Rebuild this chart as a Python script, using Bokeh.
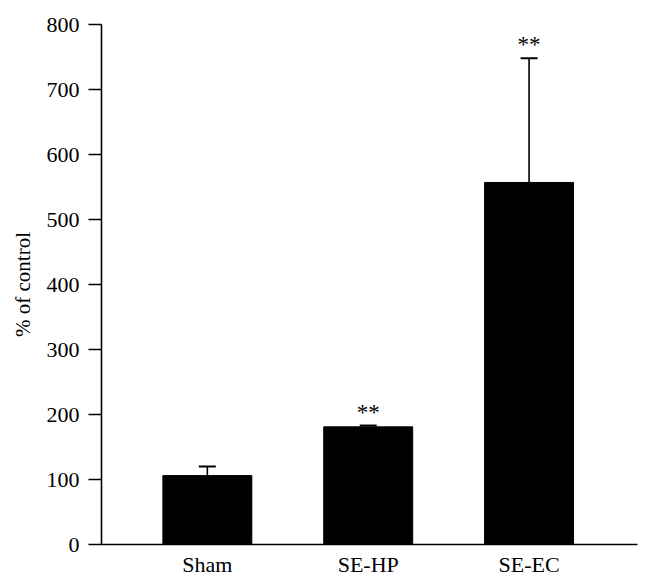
from bokeh.plotting import figure
from bokeh.models import ColumnDataSource, Range1d, FixedTicker, Whisker, TeeHead
from bokeh.core.properties import value
from bokeh.embed import file_html
from bokeh.resources import INLINE

categories = ["Sham", "SE-HP", "SE-EC"]
means = [106, 181, 557]
errors = [14, 2, 191]
significance = ["", "**", "**"]
y_ticks = [0, 100, 200, 300, 400, 500, 600, 700, 800]

xs = list(range(1, len(categories) + 1))
upper = [m + e for m, e in zip(means, errors)]
src = ColumnDataSource(dict(x=xs, top=means, upper=upper, sig=significance))

FONT = "Liberation Serif"

p = figure(width=651, height=582, output_backend="svg", toolbar_location=None,
           x_range=Range1d(0.342, 3.674), y_range=Range1d(0, 800),
           min_border_left=101, min_border_right=14, min_border_top=24, min_border_bottom=38)
p.outline_line_color = None
p.grid.visible = False
p.background_fill_color = "white"
p.border_fill_color = "white"

p.add_layout(Whisker(source=src, base="x", upper="upper", lower="top",
                     line_color="black", line_width=1.6,
                     upper_head=TeeHead(size=17, line_color="black", line_width=2),
                     lower_head=None))
p.vbar(x="x", top="top", width=0.553, bottom=0, source=src,
       fill_color="black", line_color="black")
p.text(x="x", y="upper", text="sig", source=src, text_align="center",
       text_baseline="bottom", y_offset=-1, text_font=value(FONT),
       text_font_size="23px", text_color="black")

# y axis
ya = p.yaxis[0]
ya.ticker = FixedTicker(ticks=y_ticks)
ya.axis_line_color = "black"
ya.axis_line_width = 1.6
ya.major_tick_line_color = "black"
ya.major_tick_line_width = 1.5
ya.major_tick_out = 13
ya.major_tick_in = 0
ya.minor_tick_line_color = None
ya.major_label_text_font = FONT
ya.major_label_text_font_size = "22px"
ya.major_label_text_color = "black"
ya.major_label_standoff = 9
ya.axis_label = "% of control"
ya.axis_label_text_font = FONT
ya.axis_label_text_font_style = "normal"
ya.axis_label_text_font_size = "21px"
ya.axis_label_text_color = "black"
ya.axis_label_standoff = 9

# x axis
xa = p.xaxis[0]
xa.ticker = FixedTicker(ticks=xs)
xa.major_label_overrides = {x: c for x, c in zip(xs, categories)}
xa.axis_line_color = "black"
xa.axis_line_width = 1.6
xa.major_tick_line_color = None
xa.minor_tick_line_color = None
xa.major_tick_out = 0
xa.major_tick_in = 0
xa.major_label_text_font = FONT
xa.major_label_text_font_size = "22px"
xa.major_label_text_color = "black"
xa.major_label_standoff = 7

open("out.html", "w").write(file_html(p, INLINE))
